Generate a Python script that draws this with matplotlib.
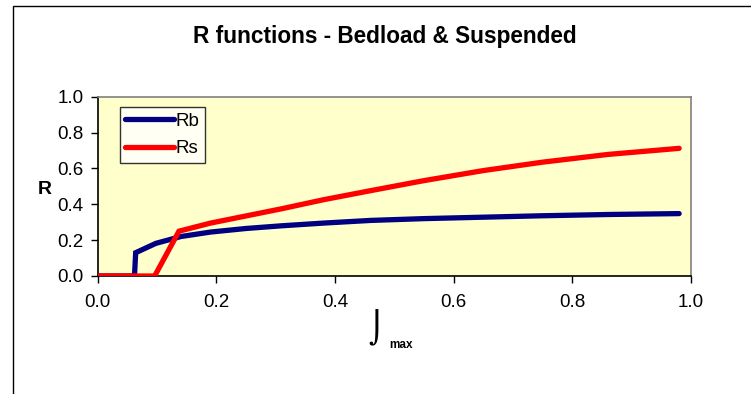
import matplotlib
matplotlib.use("Agg")
import matplotlib.pyplot as plt
from matplotlib.patches import Rectangle

# Data
rb_x = [0.0, 0.062, 0.064, 0.098, 0.14, 0.19, 0.25, 0.31, 0.38, 0.46, 0.55, 0.65, 0.75, 0.86, 0.98]
rb_y = [0.0, 0.0, 0.13, 0.182, 0.22, 0.245, 0.265, 0.28, 0.295, 0.31, 0.32, 0.328, 0.336, 0.343, 0.348]
rs_x = [0.0, 0.096, 0.137, 0.19, 0.25, 0.31, 0.38, 0.46, 0.55, 0.65, 0.75, 0.86, 0.98]
rs_y = [0.0, 0.0, 0.25, 0.295, 0.335, 0.375, 0.425, 0.476, 0.532, 0.588, 0.635, 0.678, 0.712]
series_names = ["Rb", "Rs"]
x_ticks = [0.0, 0.2, 0.4, 0.6, 0.8, 1.0]
y_ticks = [0.0, 0.2, 0.4, 0.6, 0.8, 1.0]

plt.rcParams['font.family'] = ['Liberation Sans', 'DejaVu Sans']

W, H = 751, 394
fig = plt.figure(figsize=(W/100, H/100), dpi=100)
fig.patch.set_facecolor('white')

# outer chart border (extends past right/bottom edge)
fig.patches.append(Rectangle((12.5/W, -0.1), 1.2, (H - 6.5)/H + 0.1,
                             transform=fig.transFigure, fill=False,
                             edgecolor='#000000', linewidth=1.0))

ax = fig.add_axes([97.7/W, 1 - 276/H, (691 - 97.7)/W, (276 - 96.7)/H])
ax.set_facecolor('#FFFFCC')
for k, s in ax.spines.items():
    s.set_linewidth(1.2)
    s.set_color('#808080' if k in ('top', 'right') else '#000000')

ax.plot(rb_x, rb_y, color='#000080', lw=3.8, solid_capstyle='round', solid_joinstyle='miter', label=series_names[0], zorder=3)
ax.plot(rs_x, rs_y, color='#FF0000', lw=3.8, solid_capstyle='round', solid_joinstyle='miter', label=series_names[1], zorder=4)

ax.set_xlim(0, 1)
ax.set_ylim(0, 1)
ax.set_xticks(x_ticks)
ax.set_yticks(y_ticks)
ax.set_xticklabels([f"{v:.1f}" for v in x_ticks])
ax.set_yticklabels([f"{v:.1f}" for v in y_ticks])
ax.tick_params(direction='out', length=5, width=1, color='#000000', labelsize=13.5)
ax.tick_params(axis='x', pad=8)
ax.tick_params(axis='y', pad=5)

leg = ax.legend(loc='upper left', bbox_to_anchor=((119.5 - 97.7)/(691 - 97.7), 1 - (107 - 96.7)/(276 - 96.7)),
                frameon=True, fancybox=False, fontsize=13.5, handlelength=2.6,
                handletextpad=0.1, borderpad=0.3, labelspacing=0.55, borderaxespad=0)
leg.get_frame().set_edgecolor('#000000')
leg.get_frame().set_linewidth(1.0)
leg.get_frame().set_facecolor('white')

fig.text(385/W, 1 - 36/H, "R functions - Bedload & Suspended", ha='center', va='center',
         fontsize=16.3, fontweight='bold')
fig.text(45/W, 1 - 190/H, "R", ha='center', va='center', fontsize=14, fontweight='bold')
fig.text(376/W, 1 - 328/H, "\u2321", ha='center', va='center', fontsize=22, family=['DejaVu Sans'])
fig.text(401/W, 1 - 345/H, "max", ha='center', va='center', fontsize=8.5, fontweight='bold')

fig.savefig("out.png", dpi=100)
